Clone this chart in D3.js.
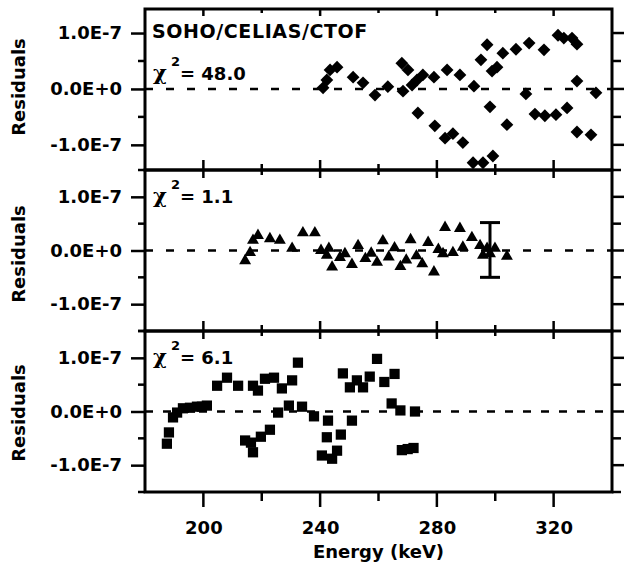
<!DOCTYPE html>
<html>
<head>
<meta charset="utf-8">
<script src="https://cdn.jsdelivr.net/npm/d3@7"></script>
<style>
  body { margin: 0; background: #fff; }
  text { font-family: 'DejaVu Sans', sans-serif; font-weight: bold; fill: #000; }
</style>
</head>
<body>
<div class="residuals-container"></div>
<script>
// residual values are in units of 1e-7
const energyTop = [241.0,242.3,243.4,245.8,251.3,254.7,258.8,263.2,268.0,268.4,270.1,271.5,273.2,275.2,273.5,279.0,279.3,282.8,283.5,285.5,287.9,288.9,292.4,295.8,299.2,292.7,295.1,297.2,298.2,298.9,300.6,302.6,304.0,307.1,310.5,311.6,313.6,316.7,317.0,320.8,321.5,323.5,324.6,326.3,328.0,328.0,328.0,332.8,334.5];
const residTop = [0.02,0.16,0.34,0.39,0.21,0.11,-0.11,0.04,0.46,-0.04,0.34,0.07,0.16,0.25,-0.43,0.21,-0.66,-0.88,0.34,-0.80,0.25,-0.96,-1.32,-1.32,-1.20,0.05,0.52,0.79,-0.32,0.32,0.39,0.64,-0.64,0.71,-0.09,0.82,-0.45,0.70,-0.48,-0.46,0.96,0.91,-0.34,0.91,0.80,0.14,-0.77,-0.82,-0.07];

const energyMid = [214.3,216.0,217.0,218.7,222.8,226.2,230.4,234.1,238.2,240.3,242.3,243.0,244.1,246.8,248.5,250.9,253.0,255.5,257.5,259.5,261.5,263.5,265.5,267.5,269.5,271.0,273.0,275.0,277.0,279.0,280.5,282.1,282.8,285.5,287.9,288.9,292.0,294.8,295.8,297.2,298.2,299.9,304.0];
const residMid = [-0.19,-0.04,0.19,0.28,0.22,0.19,0.04,0.33,0.33,0.0,-0.09,0.04,-0.31,-0.13,-0.06,-0.26,0.09,-0.15,-0.05,-0.22,0.18,-0.12,0.05,-0.30,-0.18,0.20,-0.10,-0.25,0.15,-0.40,0.02,-0.06,0.43,-0.04,0.41,0.06,0.24,0.09,-0.09,0.04,-0.06,0.04,-0.11];
const errEnergy = [298.2];
const errLow = [-0.50];
const errHigh = [0.52];

const energyBot = [187.5,188.2,189.6,191.0,193.0,195.4,197.8,199.5,201.2,204.7,208.1,211.9,214.3,216.3,217.0,217.0,218.7,219.7,221.1,222.8,224.2,225.6,226.9,229.3,230.4,232.4,233.8,237.9,240.6,242.3,242.7,244.1,245.8,247.1,247.8,250.2,250.9,252.6,254.7,257.0,259.5,262.0,264.5,265.5,267.5,268.0,270.0,272.0,272.5];
const residBot = [-0.60,-0.39,-0.11,-0.02,0.06,0.07,0.09,0.09,0.11,0.48,0.63,0.48,-0.54,-0.58,-0.76,0.48,0.39,-0.47,0.61,-0.34,0.63,-0.02,0.43,0.11,0.58,0.91,0.09,-0.09,-0.82,-0.48,-0.17,-0.88,-0.73,-0.43,0.71,0.45,-0.17,0.58,0.45,0.65,0.98,0.55,0.15,0.70,0.02,-0.72,-0.70,-0.68,0.0];

const chiLabels = ['48.0', '1.1', '6.1'];
const xTicks = [200, 240, 280, 320];
const xMinorTicks = [180, 220, 260, 300, 340];
const yTicks = [1, 0, -1];
const yTickLabels = ['1.0E-7', '0.0E+0', '-1.0E-7'];
const yMinorTicks = [1.5, 0.5, -0.5, -1.5];

const panels = [
    { energy: energyTop, resid: residTop, sym: 'diamond', chi: chiLabels[0], dom: [-1.45, 1.43], dash: '8,13' },
    { energy: energyMid, resid: residMid, sym: 'triangle', chi: chiLabels[1], dom: [-1.5, 1.5], dash: '8,13' },
    { energy: energyBot, resid: residBot, sym: 'square', chi: chiLabels[2], dom: [-1.5, 1.5], dash: '8,10' }
];

function setupCanvas() {
    const svg_width = 625;
    const svg_height = 570;
    const margin = { top: 9, left: 145 };
    const chart_width = 467;
    const panel_height = 161;

    const svg = d3.select('.residuals-container').append('svg')
        .attr('width', svg_width).attr('height', svg_height);

    const xScale = d3.scaleLinear().domain([180, 340]).range([0, chart_width]);

    const symbols = {
        diamond: d3.symbol().type(d3.symbolSquare).size(82),
        triangle: d3.symbol().type(d3.symbolTriangle).size(62),
        square: d3.symbol().type(d3.symbolSquare).size(105)
    };

    panels.forEach((p, i) => {
        const top = margin.top + i * panel_height;
        const g = svg.append('g').attr('transform', `translate(${margin.left},${top})`);
        const yScale = d3.scaleLinear().domain(p.dom).range([panel_height, 0]);
        const isFirst = i === 0, isLast = i === panels.length - 1;

        // zero line
        g.append('line')
            .attr('x1', 0).attr('x2', chart_width)
            .attr('y1', yScale(0)).attr('y2', yScale(0))
            .attr('stroke', '#000').attr('stroke-width', 2.6)
            .attr('stroke-dasharray', p.dash);

        // points
        const pts = p.energy.map((e, k) => ({ e: e, r: p.resid[k] }));
        g.selectAll('.pt').data(pts).enter().append('path')
            .attr('class', 'pt')
            .attr('d', symbols[p.sym])
            .attr('transform', d => `translate(${xScale(d.e)},${yScale(d.r)})` + (p.sym === 'diamond' ? ' rotate(45)' : ''))
            .attr('fill', '#000');

        // error bar in middle panel
        if (p.sym === 'triangle') {
            errEnergy.forEach((e, k) => {
                const ex = xScale(e), y1 = yScale(errLow[k]), y2 = yScale(errHigh[k]);
                const eb = g.append('g').attr('stroke', '#000').attr('stroke-width', 3);
                eb.append('line').attr('x1', ex).attr('x2', ex).attr('y1', y1).attr('y2', y2);
                eb.append('line').attr('x1', ex - 10).attr('x2', ex + 10).attr('y1', y1).attr('y2', y1);
                eb.append('line').attr('x1', ex - 10).attr('x2', ex + 10).attr('y1', y2).attr('y2', y2);
            });
        }

        // left axis
        const yAxis = d3.axisLeft(yScale).tickValues(yTicks)
            .tickFormat((d, k) => yTickLabels[k]).tickSizeInner(14).tickSizeOuter(0).tickPadding(9);
        const yAxisDraw = g.append('g').call(yAxis);
        yAxisDraw.select('.domain').remove();
        yAxisDraw.selectAll('line').attr('stroke-width', 2.5);
        yAxisDraw.selectAll('text').style('font-size', '18px').style('font-family', 'DejaVu Sans');
        const yMinor = yMinorTicks.filter(v => v >= p.dom[0] - 0.01 && v <= p.dom[1] + 0.01);
        g.selectAll('.yminor').data(yMinor).enter().append('line')
            .attr('x1', -7).attr('x2', 0).attr('y1', d => yScale(d)).attr('y2', d => yScale(d))
            .attr('stroke', '#000').attr('stroke-width', 2.5);

        // right axis ticks
        g.selectAll('.rtick').data(yTicks.concat(yMinor)).enter().append('line')
            .attr('x1', chart_width).attr('x2', (d, k) => chart_width + (k < yTicks.length ? 12 : 9))
            .attr('y1', d => yScale(d)).attr('y2', d => yScale(d))
            .attr('stroke', '#000').attr('stroke-width', 2.5);

        // top ticks
        g.selectAll('.ttick').data(xTicks).enter().append('line')
            .attr('x1', d => xScale(d)).attr('x2', d => xScale(d))
            .attr('y1', isFirst ? 0 : -10).attr('y2', isFirst ? 7 : 0)
            .attr('stroke', '#000').attr('stroke-width', 2.5);
        g.selectAll('.ttickm').data(xMinorTicks.slice(1, -1)).enter().append('line')
            .attr('x1', d => xScale(d)).attr('x2', d => xScale(d))
            .attr('y1', isFirst ? 0 : -6).attr('y2', isFirst ? 4 : 0)
            .attr('stroke', '#000').attr('stroke-width', 2.5);

        // bottom ticks
        const major = isLast ? 15 : 8, minor = isLast ? 9 : 5;
        g.selectAll('.btick').data(xTicks).enter().append('line')
            .attr('x1', d => xScale(d)).attr('x2', d => xScale(d))
            .attr('y1', panel_height).attr('y2', panel_height + major)
            .attr('stroke', '#000').attr('stroke-width', 2.5);
        g.selectAll('.btickm').data(xMinorTicks.slice(1, -1)).enter().append('line')
            .attr('x1', d => xScale(d)).attr('x2', d => xScale(d))
            .attr('y1', panel_height).attr('y2', panel_height + minor)
            .attr('stroke', '#000').attr('stroke-width', 2.5);

        // frame
        g.append('rect').attr('width', chart_width).attr('height', panel_height)
            .attr('fill', 'none').attr('stroke', '#000').attr('stroke-width', 3);

        // chi-square label
        const chiBase = isFirst ? 71 : 33;
        const chi = g.append('text').attr('y', chiBase);
        chi.append('tspan').attr('x', 8).style('font-size', '21px').style('font-family', 'DejaVu Serif').text('χ');
        chi.append('tspan').attr('x', 26).attr('y', chiBase - 14).style('font-size', '13px').text('2');
        chi.append('tspan').attr('x', 35).attr('y', chiBase).style('font-size', '18px').text('= ' + p.chi);

        // y label
        svg.append('text')
            .attr('transform', `translate(25,${top + [78, 84, 82][i]}) rotate(-90)`)
            .attr('text-anchor', 'middle').style('font-size', '18px').text('Residuals');

        if (isLast) {
            const xAxisDraw = g.append('g').attr('transform', `translate(0,${panel_height})`)
                .call(d3.axisBottom(xScale).tickValues(xTicks).tickSize(0).tickPadding(29));
            xAxisDraw.select('.domain').remove();
            xAxisDraw.selectAll('text').style('font-size', '18px').style('font-family', 'DejaVu Sans');
        }
    });

    // header
    svg.append('text').attr('x', 152).attr('y', 38)
        .style('font-size', '19px').style('letter-spacing', '0.6px').text('SOHO/CELIAS/CTOF');

    // x label
    svg.append('text').attr('x', margin.left + chart_width / 2).attr('y', 558)
        .attr('text-anchor', 'middle').style('font-size', '18px').text('Energy (keV)');
}

setupCanvas();
</script>
</body>
</html>
